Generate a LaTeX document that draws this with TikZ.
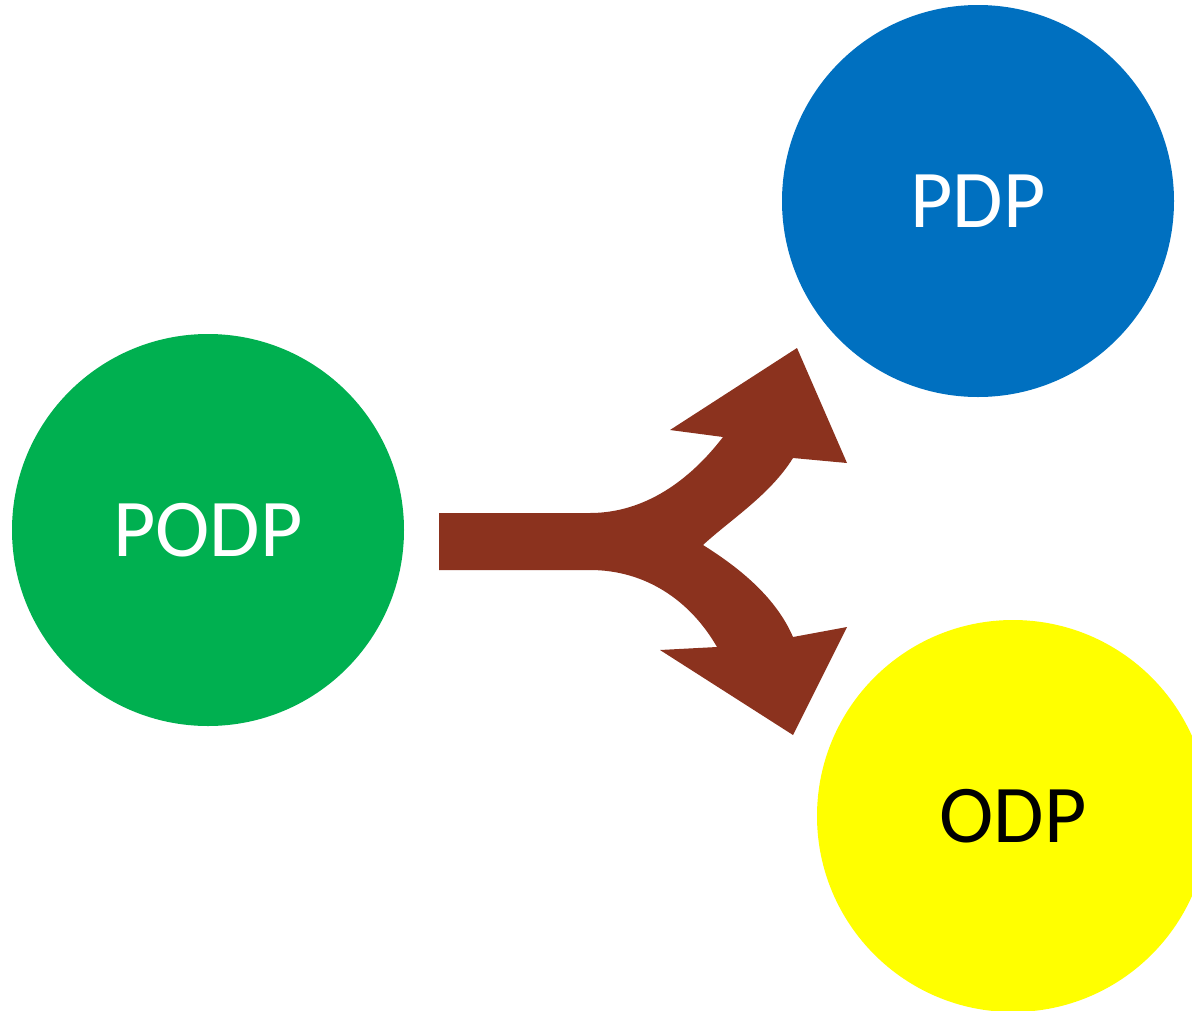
\documentclass[tikz,border=0pt]{standalone}
\usepackage{fontspec}
\setmainfont{Carlito}
\definecolor{podpgreen}{RGB}{0,176,80}
\definecolor{pdpblue}{RGB}{0,112,192}
\definecolor{odpyellow}{RGB}{255,255,0}
\definecolor{arrowbrown}{RGB}{139,50,30}
\begin{document}
\begin{tikzpicture}[x=1pt,y=-1pt,
  disc/.style={circle,minimum size=392pt,inner sep=0pt,font=\fontsize{82}{98}\selectfont}]
\useasboundingbox (0,0) rectangle (1192,1010);
\node[disc,fill=podpgreen,text=white] (podp) at (208,530) {PODP};
\node[disc,fill=pdpblue,text=white] (pdp) at (978,201) {PDP};
\node[disc,fill=odpyellow,text=black] (odp) at (1013,816) {ODP};
\fill[arrowbrown] (439,513) -- (590,513) .. controls (645,513) and (690,480) .. (723,437)
  -- (670,430) -- (797,348) -- (847,463) -- (793,458)
  .. controls (770,495) and (730,520) .. (703,545)
  .. controls (735,565) and (775,595) .. (793,637)
  -- (847,627) -- (793,735) -- (660,650) -- (717,647)
  .. controls (690,600) and (645,570) .. (590,570) -- (439,570) -- cycle;
\end{tikzpicture}
\end{document}
